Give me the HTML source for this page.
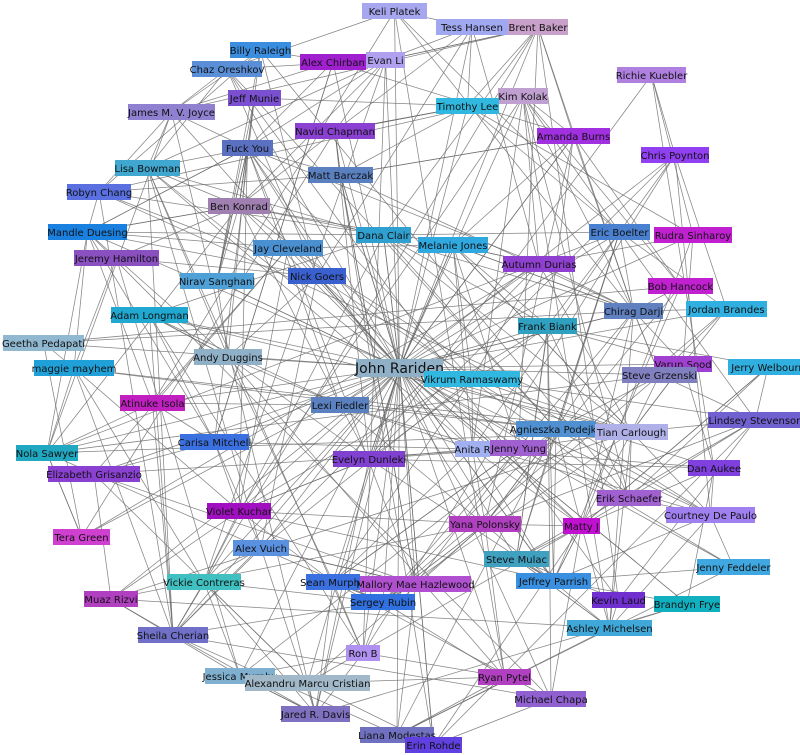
<!DOCTYPE html>
<html><head><meta charset="utf-8">
<style>
html,body{margin:0;padding:0;background:#fff;width:800px;height:755px;overflow:hidden}
svg{display:block}
text{font-family:"DejaVu Sans","Liberation Sans",sans-serif;font-size:10px;fill:#111}
</style></head>
<body>
<svg id="g" width="800" height="755" xmlns="http://www.w3.org/2000/svg">
<defs><marker id="a" markerWidth="6" markerHeight="6" refX="6" refY="3" orient="auto"><path d="M0,0 L6,3 L0,6z" fill="#666"/></marker></defs>
<g id="e" stroke="#666" stroke-width="0.75" stroke-opacity="0.8"></g>
<g id="n"></g>
</svg>
<script>
var N=[
["Keli Platek",362,3,65,"#a7a7f0"],["Tess Hansen",436,19,72,"#a0a8f0"],["Brent Baker",508,19,60,"#c9a0c9"],
["Billy Raleigh",230,42,61,"#3a8ee0"],["Alex Chirban",300,54,66,"#a020d0"],["Evan Li",366,52,39,"#b0a0f0"],
["Chaz Oreshkov",192,61,70,"#5a8fd8"],["Richie Kuebler",617,67,69,"#b080e0"],["Kim Kolak",498,88,50,"#c0a0d0"],
["Jeff Munie",228,90,53,"#7a50d0"],["Timothy Lee",436,98,63,"#30b8e0"],["James M. V. Joyce",128,104,87,"#9080d0"],
["Navid Chapman",295,123,80,"#8a40d0"],["Amanda Burns",537,128,73,"#a030e0"],["Fuck You",222,140,51,"#5a70c0"],
["Chris Poynton",641,147,68,"#9040f0"],["Lisa Bowman",115,160,65,"#40a8d0"],["Matt Barczak",308,167,65,"#5a80c0"],
["Robyn Chang",67,184,64,"#5a70e0"],["Ben Konrad",208,198,62,"#a080b0"],["Mandle Duesing",48,224,79,"#1a80e0"],
["Eric Boelter",589,224,61,"#4a80d0"],["Rudra Sinharoy",654,227,78,"#c020d0"],["Dana Clair",356,227,55,"#30a0d0"],
["Jay Cleveland",253,240,70,"#4a90d0"],["Melanie Jones",418,237,70,"#30a8e0"],["Jeremy Hamilton",74,250,85,"#8a50c0"],
["Autumn Durias",503,256,72,"#9040d0"],["Nirav Sanghani",180,273,74,"#50a0d8"],["Nick Goers",288,268,58,"#3a60d0"],
["Bob Hancock",648,278,65,"#c020d0"],["Adam Longman",111,307,77,"#20a8d0"],["Geetha Pedapati",3,335,81,"#90b8d0"],
["Jordan Brandes",686,301,81,"#30b0e0"],["Chirag Darji",604,303,59,"#6080c0"],["Frank Biank",518,318,59,"#30a0c0"],
["maggie mayhem",34,360,80,"#20a0d8"],["Andy Duggins",194,349,68,"#90b0c8"],["John Rariden",356,359,87,"#90b0c8"],
["Vikrum Ramaswamy",424,371,96,"#30b8e0"],["Varun Sood",654,356,58,"#a040d0"],["Steve Grzenski",622,367,75,"#8080c0"],
["Jerry Welbourn",728,359,80,"#30b0e0"],["Atinuke Isola",120,395,65,"#c020c0"],["Lexi Fiedler",311,397,58,"#5a80c0"],
["Lindsey Stevenson",708,412,95,"#7060d0"],["Agnieszka Podejko",516,421,80,"#5090d0"],["Tian Carlough",595,424,73,"#b0b0e8"],
["Nola Sawyer",16,445,62,"#20a8c0"],["Carisa Mitchell",180,434,69,"#3a70e0"],["Anita R",455,441,35,"#a0b0f0"],
["Jenny Yung",490,440,57,"#a060d0"],["Evelyn Dunleki",333,451,72,"#8040d0"],["Dan Aukee",688,460,52,"#8040e0"],
["Elizabeth Grisanzio",48,466,92,"#8a40d0"],["Erik Schaefer",597,490,64,"#a060d0"],["Violet Kuchar",207,503,64,"#a010c0"],
["Courtney De Paulo",666,507,89,"#a080f0"],["Yana Polonsky",449,516,72,"#b040c0"],["Matty J",563,518,37,"#c010d0"],
["Tera Green",53,529,57,"#d040d0"],["Alex Vuich",233,540,56,"#5a90e0"],["Steve Mulac",484,551,65,"#40a0c0"],
["Jenny Feddeler",697,559,73,"#40a8e0"],["Vickie Contreras",167,574,74,"#40c0c0"],["Sean Murphy",306,574,54,"#3a70e0"],
["Mallory Mae Hazlewood",360,576,111,"#b050d0"],["Jeffrey Parrish",516,573,75,"#3a90e0"],["Muaz Rizvi",84,591,54,"#b040c0"],
["Kevin Laud",592,592,53,"#7030d0"],["Brandyn Frye",654,596,66,"#10b0c0"],["Sergey Rubin",351,594,64,"#3070e0"],
["Ashley Michelsen",567,620,85,"#40a8d8"],["Sheila Cherian",138,627,70,"#7070c8"],["Ron B",346,645,34,"#b090f0"],
["Jessica Murphy",205,668,70,"#80b0d0"],["Alexandru Marcu Cristian",245,675,125,"#a0b8c8"],["Ryan Pytel",478,669,53,"#b040c0"],
["Michael Chapa",516,691,70,"#9060d0"],["Jared R. Davis",281,706,69,"#8070c0"],["Liana Modestas",360,727,74,"#7070c0"],
["Erin Rohde",405,737,57,"#6040e0"]];
var s=12345;function r(){s=(s*1103515245+12345)%2147483648;return s/2147483648;}
var E=document.getElementById("e"),G=document.getElementById("n"),ns="http://www.w3.org/2000/svg";
function c(i){var n=N[i];var h=(n[0]=="John Rariden")?18:16;return[n[1]+n[3]/2,n[2]+h/2];}
function ln(i,j){var a=c(i),b=c(j);var l=document.createElementNS(ns,"line");l.setAttribute("x1",a[0]);l.setAttribute("y1",a[1]);l.setAttribute("x2",b[0]);l.setAttribute("y2",b[1]);l.setAttribute("marker-end","url(#a)");E.appendChild(l);}
var J=38;
for(var i=0;i<N.length;i++){if(i!=J&&r()<0.8)ln(i,J);}
for(var i=0;i<N.length;i++){for(var j=0;j<N.length;j++){if(i==j)continue;var a=c(i),b=c(j);var d=Math.hypot(a[0]-b[0],a[1]-b[1]);var p=0.55*Math.exp(-d/110)+0.014;if(r()<p*0.85)ln(i,j);}}
for(var i=0;i<N.length;i++){var n=N[i];var big=n[0]=="John Rariden";var h=big?18:16;
var R=document.createElementNS(ns,"rect");R.setAttribute("x",n[1]);R.setAttribute("y",n[2]);R.setAttribute("width",n[3]);R.setAttribute("height",h);R.setAttribute("fill",n[4]);G.appendChild(R);
var T=document.createElementNS(ns,"text");T.setAttribute("x",n[1]+n[3]/2);T.setAttribute("y",n[2]+(big?14:12));T.setAttribute("text-anchor","middle");if(big)T.setAttribute("style","font-size:14px");T.textContent=n[0];G.appendChild(T);}
</script>
</body></html>
